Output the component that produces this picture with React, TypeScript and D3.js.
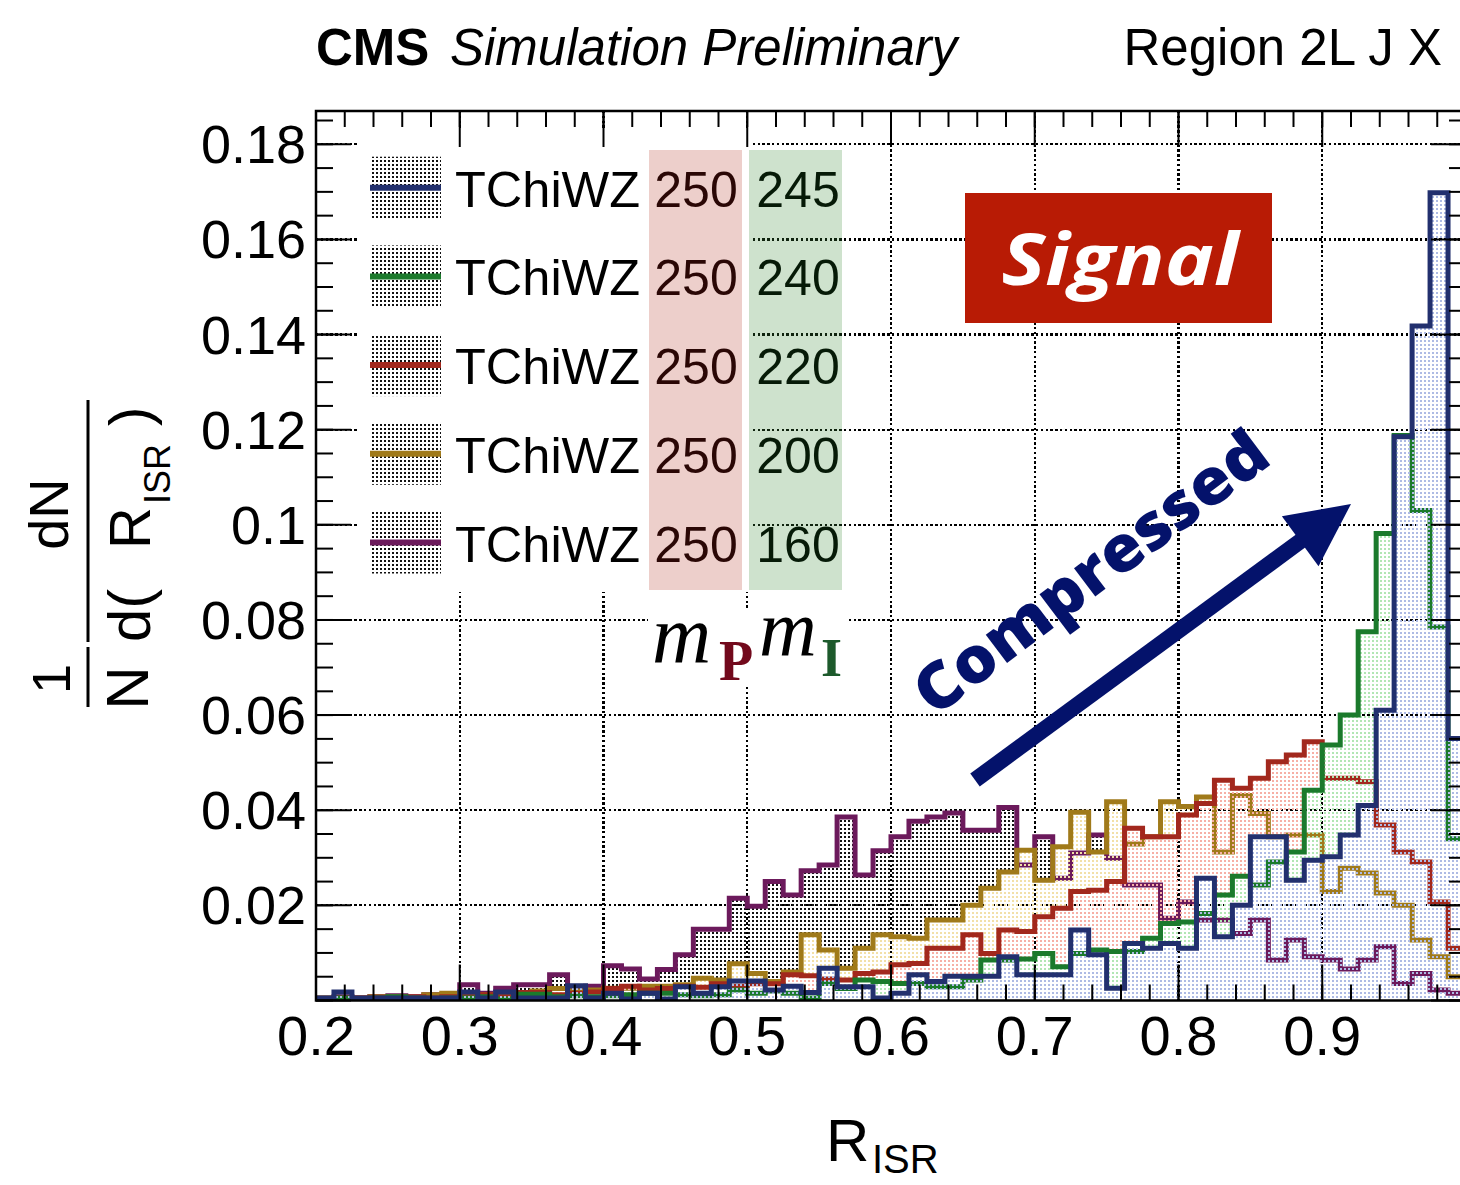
import React from 'react';
import * as d3 from 'd3';

// ---------- data ----------
const binStart = 0.2;
const binWidth = 0.0125;
const nBins = 64;

const legendNames = ['TChiWZ', 'TChiWZ', 'TChiWZ', 'TChiWZ', 'TChiWZ'];
const parentMasses = ['250', '250', '250', '250', '250'];
const lspMasses = ['245', '240', '220', '200', '160'];

// normalized bin contents, bins of 0.0125 from 0.2 to 1.0
const h245 = [
  0.0005, 0.0018, 0.0005, 0.0005, 0.0005, 0.0005, 0.0005, 0.0005,
  0.0018, 0.0005, 0.0018, 0.0005, 0.0005, 0.0005, 0.0031, 0.0005,
  0.0015, 0.0003, 0.0015, 0.0003, 0.0029, 0.0015, 0.0029, 0.0041,
  0.0041, 0.0022, 0.003, 0.0017, 0.0068, 0.0029, 0.0029, 0.0005,
  0.0015, 0.0054, 0.004, 0.0051, 0.0051, 0.0051, 0.0092, 0.0054,
  0.0054, 0.0054, 0.0148, 0.0096, 0.0026, 0.012, 0.011, 0.012,
  0.011, 0.0257, 0.0134, 0.02, 0.0344, 0.0344, 0.0253, 0.0295,
  0.0302, 0.0348, 0.041, 0.061, 0.1185, 0.1418, 0.1698, 0.0551,
];
const h240 = [
  0.0003, 0.0005, 0.0003, 0.0005, 0.0008, 0.0005, 0.0003, 0.0005,
  0.0005, 0.0008, 0.0003, 0.0013, 0.0013, 0.0008, 0.001, 0.0008,
  0.001, 0.0012, 0.0015, 0.0015, 0.0012, 0.001, 0.0012, 0.0022,
  0.0015, 0.002, 0.0015, 0.0005, 0.0036, 0.0025, 0.0043, 0.004,
  0.0036, 0.0036, 0.0029, 0.0029, 0.0043, 0.0085, 0.0085, 0.0087,
  0.0099, 0.0071, 0.0099, 0.0106, 0.0103, 0.0103, 0.0131, 0.0162,
  0.0165, 0.0183, 0.0222, 0.0261, 0.0243, 0.0291, 0.0312, 0.0442,
  0.0537, 0.06, 0.0775, 0.0982, 0.1188, 0.103, 0.0785, 0.034,
];
const h220 = [
  0.0002, 0.0005, 0.0005, 0.0007, 0.0005, 0.0008, 0.0005, 0.0008,
  0.0008, 0.0012, 0.0008, 0.0017, 0.0017, 0.0012, 0.0015, 0.0018,
  0.0025, 0.003, 0.0022, 0.0025, 0.003, 0.0028, 0.0035, 0.003,
  0.0035, 0.0035, 0.0054, 0.0052, 0.0045, 0.0043, 0.0057, 0.006,
  0.0075, 0.0078, 0.011, 0.011, 0.0138, 0.0099, 0.0148, 0.0145,
  0.0176, 0.0194, 0.0229, 0.0232, 0.025, 0.0362, 0.0344, 0.0344,
  0.039, 0.0414, 0.0463, 0.0446, 0.0467, 0.0502, 0.0516, 0.0544,
  0.0467, 0.0467, 0.046, 0.0369, 0.0312, 0.0291, 0.0207, 0.011,
];
const h200 = [
  0.0005, 0.0003, 0.0005, 0.0008, 0.0008, 0.0005, 0.0012, 0.0015,
  0.001, 0.0012, 0.0015, 0.0015, 0.002, 0.0025, 0.002, 0.0022,
  0.0026, 0.0026, 0.003, 0.003, 0.0033, 0.0047, 0.0043, 0.0077,
  0.0057, 0.004, 0.006, 0.0138, 0.0106, 0.0068, 0.011, 0.0138,
  0.0134, 0.0131, 0.0169, 0.0169, 0.02, 0.0236, 0.027, 0.0316,
  0.0253, 0.0323, 0.0396, 0.0312, 0.0418, 0.0329, 0.0344, 0.0418,
  0.0408, 0.0428, 0.0312, 0.0431, 0.0393, 0.0344, 0.0348, 0.0348,
  0.0229, 0.0278, 0.0268, 0.0226, 0.02, 0.0127, 0.0092, 0.005,
];
const h160 = [
  0.0005, 0.0008, 0.0005, 0.0008, 0.001, 0.0008, 0.0012, 0.0012,
  0.0033, 0.0015, 0.0026, 0.0033, 0.0033, 0.0054, 0.0026, 0.003,
  0.0073, 0.0066, 0.0045, 0.0065, 0.0096, 0.015, 0.015, 0.0215,
  0.0198, 0.025, 0.0222, 0.0273, 0.0285, 0.0386, 0.0264, 0.0315,
  0.0344, 0.0377, 0.0386, 0.0394, 0.0358, 0.0358, 0.0406, 0.0285,
  0.0344, 0.0257, 0.031, 0.0348, 0.0299, 0.0243, 0.0243, 0.0173,
  0.0207, 0.0169, 0.0169, 0.0141, 0.0169, 0.0085, 0.0127, 0.0092,
  0.0085, 0.0066, 0.0085, 0.0113, 0.0036, 0.0057, 0.0022, 0.0015,
];

const xTickValues = [0.2, 0.3, 0.4, 0.5, 0.6, 0.7, 0.8, 0.9];
const xTickLabels = ['0.2', '0.3', '0.4', '0.5', '0.6', '0.7', '0.8', '0.9'];
const yTickValues = [0.02, 0.04, 0.06, 0.08, 0.1, 0.12, 0.14, 0.16, 0.18];
const yTickLabels = ['0.02', '0.04', '0.06', '0.08', '0.1', '0.12', '0.14', '0.16', '0.18'];

// ---------- styles ----------
const lineColors: Record<string, string> = {
  '245': '#22306e',
  '240': '#1b7a2c',
  '220': '#a2281d',
  '200': '#a07a1a',
  '160': '#6c1a5c',
};
const dotColors: Record<string, string> = {
  '245': '#aebbe4',
  '240': '#b2e6b4',
  '220': '#f6b0a6',
  '200': '#f2e0a8',
  '160': '#111111',
};
const seriesData: Record<string, number[]> = {
  '245': h245,
  '240': h240,
  '220': h220,
  '200': h200,
  '160': h160,
};
const drawOrder = ['160', '200', '220', '240', '245'];

const FONT = "'Liberation Sans', Arial, Helvetica, sans-serif";

const W = 1460;
const H = 1185;
const L = 316, R = 1466, T = 111, B = 1000.5;

export default function App() {
  const x = d3.scaleLinear().domain([0.2, 1.0]).range([L, R]);
  const y = d3.scaleLinear().domain([0, 0.187]).range([B, T]);
  const edges = d3.range(nBins + 1).map((i) => binStart + i * binWidth);

  const histPath = (vals: number[], close: boolean) => {
    let p = `M${x(edges[0])},${y(0)}`;
    vals.forEach((v, i) => {
      p += `V${y(v)}H${x(edges[i + 1])}`;
    });
    p += `V${y(0)}`;
    if (close) p += 'Z';
    return p;
  };

  const yMinor = d3.range(0, 38).map((i) => i * 0.005).filter((v) => v <= 0.187);
  const yMajor = d3.range(0, 10).map((i) => i * 0.02);
  const xMinor = d3.range(0, 41).map((i) => 0.2 + i * 0.02).filter((v) => v <= 1.0001);
  const xMajor = d3.range(0, 9).map((i) => 0.2 + i * 0.1);

  const dash = '2.4 2.4';

  // legend geometry
  const legLine0 = 187.7;
  const legStep = 88.7;

  // arrow geometry
  const ax0 = 975, ay0 = 780, ax1 = 1351, ay1 = 504;
  const dx = ax1 - ax0, dy = ay1 - ay0;
  const len = Math.hypot(dx, dy);
  const ux = dx / len, uy = dy / len;
  const headL = 63, headW = 31;
  const bx = ax1 - ux * headL, by = ay1 - uy * headL;
  const nx = -uy, ny = ux;

  return (
    <svg
      width={W}
      height={H}
      viewBox={`0 0 ${W} ${H}`}
      style={{ position: 'absolute', left: 0, top: 0, background: '#fff' }}
    >
      <defs>
        {drawOrder.map((k) => (
          <pattern key={k} id={`dots${k}`} width={4} height={4} patternUnits="userSpaceOnUse">
            <rect x={0} y={0} width={2} height={2} fill={dotColors[k]} />
          </pattern>
        ))}
        <pattern id="legdots" width={4} height={4} patternUnits="userSpaceOnUse">
          <rect x={0} y={0} width={2} height={2} fill="#111" />
        </pattern>
        <clipPath id="plotclip">
          <rect x={L} y={T} width={R - L} height={B - T} />
        </clipPath>
      </defs>

      <rect x={0} y={0} width={W} height={H} fill="#fff" />

      {/* grid */}
      <g stroke="#000" strokeWidth={2.2} strokeDasharray={dash} shapeRendering="crispEdges">
        {yTickValues.map((v) => (
          <line key={`gy${v}`} x1={L} x2={R} y1={y(v)} y2={y(v)} />
        ))}
        {xTickValues.slice(1).map((v) => (
          <line key={`gx${v}`} x1={x(v)} x2={x(v)} y1={T} y2={B} />
        ))}
      </g>

      {/* histograms */}
      <g clipPath="url(#plotclip)">
        {drawOrder.map((k) => (
          <g key={k}>
            <path d={histPath(seriesData[k], true)} fill={`url(#dots${k})`} stroke="none" />
            <path
              d={histPath(seriesData[k], false)}
              fill="none"
              stroke={lineColors[k]}
              strokeWidth={5}
              strokeLinejoin="miter"
            />
          </g>
        ))}
      </g>

      {/* legend background */}
      <rect x={358} y={128} width={392} height={464} fill="#fff" />
      <rect x={649} y={150} width={93} height={440} fill="#edcfcb" />
      <rect x={749} y={150} width={93} height={440} fill="rgb(60,140,55)" fillOpacity={0.25} />
      {lspMasses.map((m, i) => {
        const ly = legLine0 + i * legStep;
        return (
          <g key={`leg${i}`}>
            <rect x={370} y={ly - 31} width={71} height={62} fill="url(#legdots)" />
            <line x1={370} x2={441} y1={ly} y2={ly} stroke={lineColors[m]} strokeWidth={6} />
            <text x={455} y={ly + 19} fontFamily={FONT} fontSize={50.5} fill="#000">
              {legendNames[i]}
            </text>
            <text x={696} y={ly + 19} fontFamily={FONT} fontSize={50} fill="#2a0705" textAnchor="middle">
              {parentMasses[i]}
            </text>
            <text x={798} y={ly + 19} fontFamily={FONT} fontSize={50} fill="#061a07" textAnchor="middle">
              {m}
            </text>
          </g>
        );
      })}

      {/* m_P m_I label */}
      <rect x={648} y={609} width={200} height={76} fill="#fff" />
      <text x={652} y={662} fontFamily="'Liberation Serif', 'DejaVu Serif', serif" fontStyle="italic" fontSize={82} fill="#000">
        m
      </text>
      <text x={719} y={680} fontFamily="'Liberation Serif', 'DejaVu Serif', serif" fontWeight="bold" fontSize={56} fill="#72091c">
        P
      </text>
      <text x={759} y={655} fontFamily="'Liberation Serif', 'DejaVu Serif', serif" fontStyle="italic" fontSize={80} fill="#000">
        m
      </text>
      <text x={821} y={676} fontFamily="'Liberation Serif', 'DejaVu Serif', serif" fontWeight="bold" fontSize={54} fill="#1d5a2c">
        I
      </text>

      {/* Signal box */}
      <rect x={965} y={193} width={307} height={130} fill="#b81b05" />
      <text
        x={1120}
        y={285}
        fontFamily="'Open Sans', 'Lato', sans-serif"
        fontWeight="bold"
        fontStyle="italic"
        fontSize={72}
        fill="#fff"
        textAnchor="middle"
        textLength={237}
        lengthAdjust="spacingAndGlyphs"
      >
        Signal
      </text>

      {/* Compressed arrow */}
      <line x1={ax0} y1={ay0} x2={bx + ux * 4} y2={by + uy * 4} stroke="#04126b" strokeWidth={16} />
      <polygon
        points={`${ax1},${ay1} ${bx + nx * headW},${by + ny * headW} ${bx - nx * headW},${by - ny * headW}`}
        fill="#04126b"
      />
      <text
        transform="translate(1104,590) rotate(-37)"
        x={0}
        y={0}
        fontFamily="'Open Sans', 'Lato', sans-serif"
        fontWeight="800"
        fontSize={64}
        fill="#04126b"
        textAnchor="middle"
        textLength={425}
        lengthAdjust="spacingAndGlyphs"
      >
        Compressed
      </text>

      {/* ticks */}
      <g stroke="#000" strokeWidth={2}>
        {yMinor.map((v) => (
          <g key={`ym${v}`}>
            <line x1={L} x2={L + 17} y1={y(v)} y2={y(v)} />
            <line x1={R} x2={R - 17} y1={y(v)} y2={y(v)} />
          </g>
        ))}
        {yMajor.map((v) => (
          <g key={`yM${v}`}>
            <line x1={L} x2={L + 35} y1={y(v)} y2={y(v)} />
            <line x1={R} x2={R - 35} y1={y(v)} y2={y(v)} />
          </g>
        ))}
        {xMinor.map((v) => (
          <g key={`xm${v}`}>
            <line x1={x(v)} x2={x(v)} y1={B} y2={B - 16} />
            <line x1={x(v)} x2={x(v)} y1={T} y2={T + 16} />
          </g>
        ))}
        {xMajor.map((v) => (
          <g key={`xM${v}`}>
            <line x1={x(v)} x2={x(v)} y1={B} y2={B - 36} />
            <line x1={x(v)} x2={x(v)} y1={T} y2={T + 36} />
          </g>
        ))}
      </g>

      {/* frame */}
      <rect x={L} y={T} width={R - L} height={B - T} fill="none" stroke="#000" strokeWidth={2.5} />

      {/* tick labels */}
      {yTickValues.map((v, i) => (
        <text key={`yl${v}`} x={306} y={y(v) + 19} fontFamily={FONT} fontSize={54} textAnchor="end" fill="#000">
          {yTickLabels[i]}
        </text>
      ))}
      {xTickValues.map((v, i) => (
        <text key={`xl${v}`} x={x(v)} y={1055} fontFamily={FONT} fontSize={56} textAnchor="middle" fill="#000">
          {xTickLabels[i]}
        </text>
      ))}

      {/* x title */}
      <text x={826} y={1161} fontFamily={FONT} fontSize={60} fill="#000">
        R
      </text>
      <text x={872} y={1173} fontFamily={FONT} fontSize={40} fill="#000">
        ISR
      </text>

      {/* y title */}
      <g transform="rotate(-90)" fontFamily={FONT} fill="#000">
        <text x={-514} y={68} fontSize={56} textAnchor="middle">dN</text>
        <line x1={-642} x2={-400} y1={88} y2={88} stroke="#000" strokeWidth={3} />
        <text x={-642} y={150} fontSize={60}>d(</text>
        <text x={-549} y={150} fontSize={58}>R</text>
        <text x={-504} y={170} fontSize={36}>ISR</text>
        <text x={-426} y={150} fontSize={58}>)</text>
        <text x={-679} y={70} fontSize={54} textAnchor="middle">1</text>
        <line x1={-707} x2={-647} y1={88} y2={88} stroke="#000" strokeWidth={3} />
        <text x={-688} y={148} fontSize={60} textAnchor="middle">N</text>
      </g>

      {/* header */}
      <text x={316} y={65} fontFamily={FONT} fontWeight="bold" fontSize={51} fill="#000">
        CMS
      </text>
      <text x={450} y={65} fontFamily={FONT} fontStyle="italic" fontSize={51} fill="#000">
        Simulation Preliminary
      </text>
      <text x={1442} y={65} fontFamily={FONT} fontSize={51} fill="#000" textAnchor="end">
        Region 2L J X
      </text>
    </svg>
  );
}
